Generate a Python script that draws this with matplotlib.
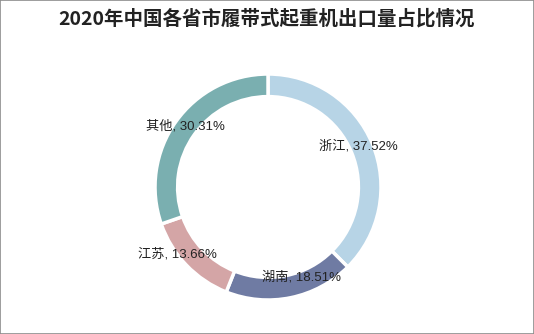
import numpy as np
import matplotlib.pyplot as plt
from matplotlib.patches import Rectangle

plt.rcParams['font.family'] = ['Noto Sans CJK SC', 'DejaVu Sans']

# data
provinces = ['浙江', '湖南', '江苏', '其他']
shares = [37.52, 18.51, 13.66, 30.31]
colors = ['#b7d4e6', '#6f7ba3', '#d4a5a6', '#7aafb0']

# label placement (radius, angle nudge in degrees) relative to wedge middle
label_r = [0.875, 0.85, 1.0, 0.91]
label_nudge = [2, 9, -7.3, -1]

fig = plt.figure(figsize=(5.34, 3.34), dpi=100)
fig.patches.append(Rectangle((0, 0), 1, 1, transform=fig.transFigure,
                             fill=False, edgecolor='#8c8c8c', linewidth=1.2))

ax = fig.add_axes([0.2903, 0.1018, 0.4232, 0.6766])
wedges, _ = ax.pie(shares, colors=colors, startangle=90, counterclock=False,
                   radius=1.0,
                   wedgeprops=dict(width=0.2, edgecolor='white', linewidth=2.5))

for w, name, val, r, nd in zip(wedges, provinces, shares, label_r, label_nudge):
    mid = np.deg2rad((w.theta1 + w.theta2) / 2 + nd)
    ax.text(r * np.cos(mid), r * np.sin(mid), f'{name}, {val:.2f}%',
            ha='center', va='center', fontsize=9.5, color='#222222',
            family=['Liberation Sans', 'Noto Sans CJK SC'])

ax.set_xlim(-1, 1)
ax.set_ylim(-1, 1)
ax.set_aspect('equal')
ax.axis('off')

fig.text(0.5, 0.945, '2020年中国各省市履带式起重机出口量占比情况',
         ha='center', va='center', fontsize=14, fontweight='bold', color='#222222')

fig.savefig('out.png', dpi=100)
